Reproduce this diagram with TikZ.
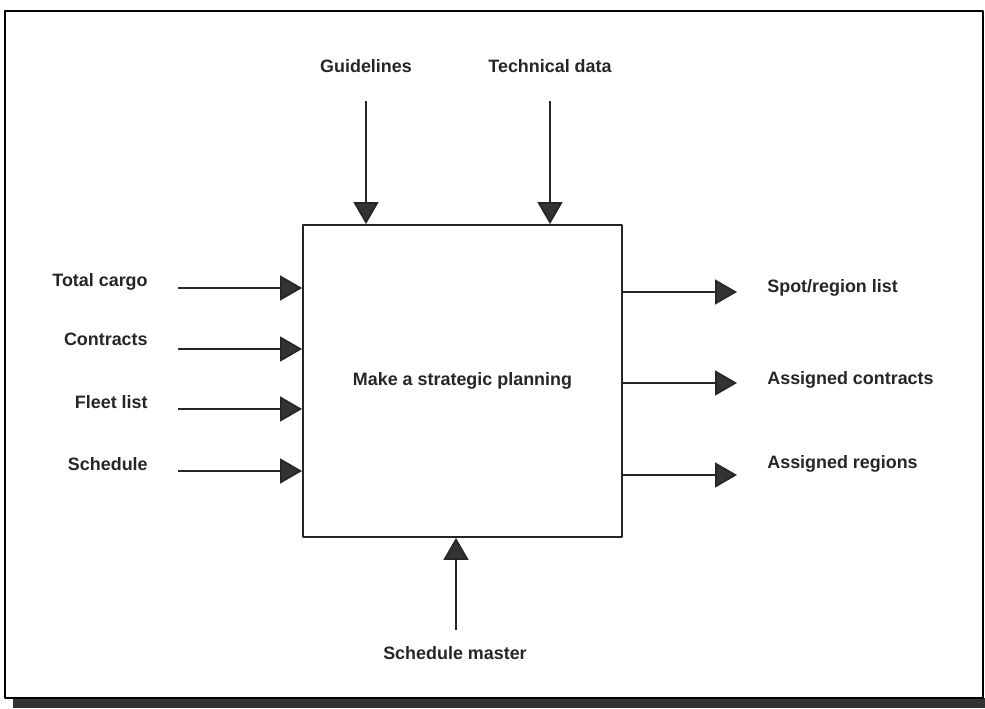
\documentclass[tikz,border=0pt]{standalone}
\usepackage{fontspec}
\setmainfont{Liberation Sans}
\usetikzlibrary{arrows.meta}
\definecolor{ink}{HTML}{262626}
\definecolor{tipgray}{HTML}{333333}
\begin{document}
\begin{tikzpicture}[x=0.02cm, y=-0.02cm, line join=round,
	font=\bfseries\fontsize{10.2}{12}\selectfont,
	flow/.style={draw=ink, line width=1pt, -{Triangle[length=0.44cm, width=0.5cm, fill=tipgray]}},
	lbl/.style={text=ink, inner sep=0pt}]
	\def\lx{148} \def\rx{767} % label columns
	\def\ax{178} \def\bx{737} % arrow tails / heads
	\useasboundingbox (0,0) rectangle (985,709);
	
	% sheet with drop shadow
	\fill[tipgray] (13,698) rectangle (985,708);
	\draw[line width=1.1pt, fill=white] (5,11) rectangle (983,698);
	
	\node (plan) [draw=ink, line width=1.1pt, minimum width=6.38cm, minimum height=6.24cm, text=ink] at (462.5,381) {Make a strategic planning};
	
	% controls
	\node (guide) [lbl, anchor=base] at (366,73) {Guidelines};
	\node (tech) [lbl, anchor=base] at (550,73) {Technical data};
	\coordinate (guide-s) at (366,101);
	\coordinate (tech-s) at (550,101);
	\draw[flow] (guide-s) -- (guide-s |- plan.north);
	\draw[flow] (tech-s) -- (tech-s |- plan.north);
	
	% inputs
	\node (cargo) [lbl, anchor=base east] at (\lx,287) {Total cargo};
	\node (contr) [lbl, anchor=base east] at (\lx,346) {Contracts};
	\node (fleet) [lbl, anchor=base east] at (\lx,409) {Fleet list};
	\node (sched) [lbl, anchor=base east] at (\lx,471) {Schedule};
	\coordinate (cargo-s) at (\ax,288);
	\coordinate (contr-s) at (\ax,349);
	\coordinate (fleet-s) at (\ax,409);
	\coordinate (sched-s) at (\ax,471);
	\draw[flow] (cargo-s) -- (cargo-s -| plan.west);
	\draw[flow] (contr-s) -- (contr-s -| plan.west);
	\draw[flow] (fleet-s) -- (fleet-s -| plan.west);
	\draw[flow] (sched-s) -- (sched-s -| plan.west);
	
	% outputs
	\node (spot) [lbl, anchor=base west] at (\rx,293) {Spot/region list};
	\node (acontr) [lbl, anchor=base west] at (\rx,385) {Assigned contracts};
	\node (aregion) [lbl, anchor=base west] at (\rx,469) {Assigned regions};
	\coordinate (spot-e) at (\bx,292);
	\coordinate (acontr-e) at (\bx,383);
	\coordinate (aregion-e) at (\bx,475);
	\draw[flow] (spot-e -| plan.east) -- (spot-e);
	\draw[flow] (acontr-e -| plan.east) -- (acontr-e);
	\draw[flow] (aregion-e -| plan.east) -- (aregion-e);
	
	% mechanism
	\node (master) [lbl, anchor=base] at (455,660) {Schedule master};
	\coordinate (master-s) at (456,630);
	\draw[flow] (master-s) -- (master-s |- plan.south);
\end{tikzpicture}
\end{document}
